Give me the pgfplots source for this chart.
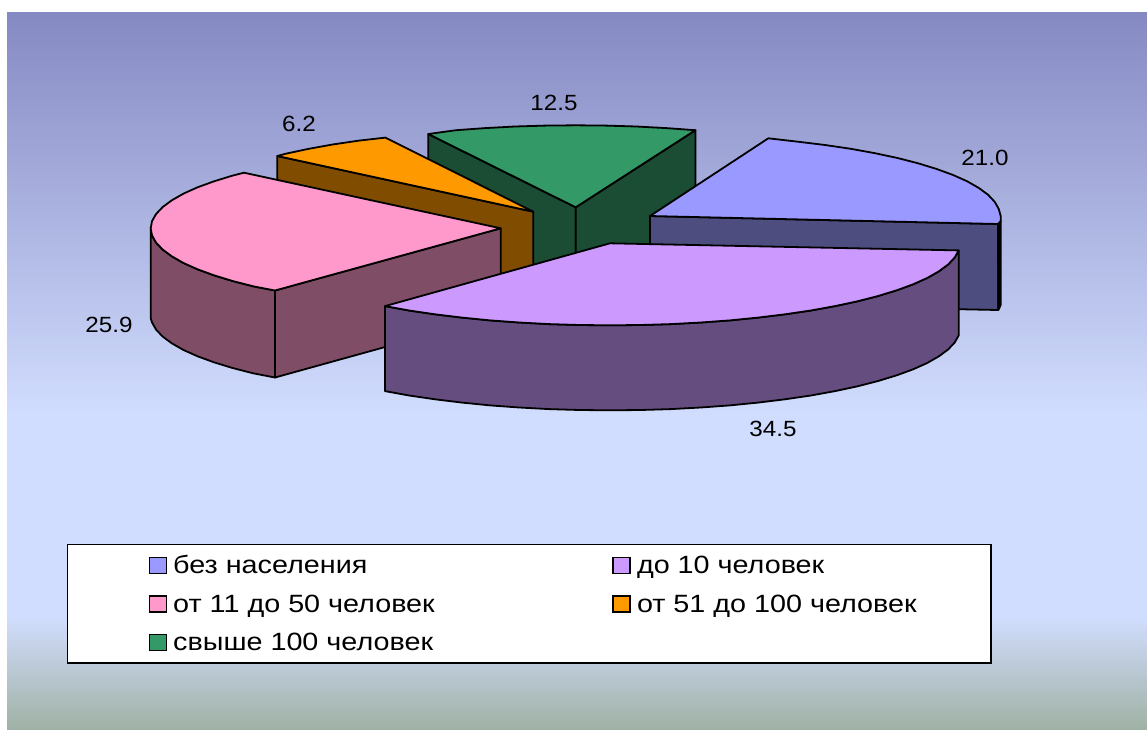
\documentclass[border=0pt]{standalone}
\usepackage{pgfplots}
\usepackage{fontspec}
\setmainfont{Liberation Sans}
\newfontfamily\legfont[FakeStretch=1.15]{Liberation Sans}
\newfontfamily\labfont[FakeStretch=1.1]{Liberation Sans}
\pgfplotsset{compat=1.18}
\definecolor{bgtop}{RGB}{133,137,194}
\definecolor{bgmid}{RGB}{209,221,254}
\definecolor{bgbot}{RGB}{160,178,165}
\definecolor{blueT}{HTML}{9999FF}
\definecolor{blueS}{HTML}{4D4D80}
\definecolor{purpT}{HTML}{CC99FF}
\definecolor{purpS}{HTML}{664D80}
\definecolor{pinkT}{HTML}{FF99CC}
\definecolor{pinkS}{HTML}{804D66}
\definecolor{oranT}{HTML}{FF9900}
\definecolor{oranS}{HTML}{804D00}
\definecolor{greenT}{HTML}{339966}
\definecolor{greenS}{HTML}{1A4D33}
\pgfplotstableread{
x y v
554 103 12.5
299 124 6.2
985 158 21.0
109 325 25.9
773 429 34.5
}\labels
\begin{document}
\begin{tikzpicture}
\begin{axis}[
    scale only axis, width=1147pt, height=729pt,
    xmin=0, xmax=1147, ymin=0, ymax=729, y dir=reverse,
    axis lines=none, clip=false,
    legend columns=2,
    legend cell align=left,
    legend image code/.code={\path (-81pt,0pt) (21pt,0pt);
        \draw[#1, line width=1.6pt] (0pt,-8pt) rectangle (17pt,8pt);},
    legend style={at={(axis cs:66.5,543.5)}, anchor=north west, draw=black, line width=1.8pt, fill=white,
        font=\legfont\fontsize{25}{26}\selectfont, inner xsep=0pt, inner ysep=9pt,
        row sep=15.5pt},
    poly/.style={draw=black, line width=1.8pt, line join=round, forget plot},
]
% background
\fill[white] (axis cs:0,0) rectangle (axis cs:1147,729);
\shade[top color=bgtop, bottom color=bgmid] (axis cs:7,12) rectangle (axis cs:1147,415);
\fill[bgmid] (axis cs:7,414) rectangle (axis cs:1147,618);
\shade[top color=bgmid, bottom color=bgbot] (axis cs:7,617) rectangle (axis cs:1147,729);

\addlegendimage{fill=blueT}\addlegendentry{\makebox[356pt][l]{без населения}}
\addlegendimage{fill=purpT}\addlegendentry{\makebox[352pt][l]{до 10 человек}}
\addlegendimage{fill=pinkT}\addlegendentry{от 11 до 50 человек}
\addlegendimage{fill=oranT}\addlegendentry{от 51 до 100 человек}
\addlegendimage{fill=greenT}\addlegendentry{свыше 100 человек}

% green slice
\addplot[poly, fill=greenS] coordinates {(428.3,134) (575.7,207.3) (575.7,294) (428.3,221)} -- cycle;
\addplot[poly, fill=greenS] coordinates {(695.4,130.2) (575.7,207.3) (575.7,294) (695.4,217)} -- cycle;
\addplot[poly, fill=greenT] coordinates {(575.7,207.3) (428.3,134) (456,130.2) (485.1,128.1) (514.9,126.5) (545.2,125.6) (575.7,125.3) (606.2,125.6) (636.5,126.5) (666.3,128.1) (695.4,130.2)} -- cycle;
% orange slice
\addplot[poly, fill=oranS] coordinates {(277.3,156) (533.3,211.7) (533.3,298.7) (277.3,243)} -- cycle;
\addplot[poly, fill=oranT] coordinates {(533.3,211.7) (277.3,156) (285.8,153.7) (308.3,148.9) (332.5,144.5) (358.3,140.7) (385.4,137.6)} -- cycle;
% pink slice
\addplot[poly, fill=pinkS] coordinates {(275,290.5) (275,377.5) (500.7,315) (500.7,228.3)} -- cycle;
\addplot[poly, fill=pinkS] coordinates {(150.7,228.3) (150.7,318) (152,322.4) (156,329.5) (162.6,336.5) (171.8,343.3) (183.5,350) (197.6,356.3) (214,362.3) (232.6,368) (253.2,373.3) (275,377.5) (275,290.5) (253.2,286.3) (232.6,281) (214,275.3) (197.6,269.3) (183.5,263) (171.8,256.3) (162.6,249.5) (156,242.5) (152,235.4)} -- cycle;
\addplot[poly, fill=pinkT] coordinates {(500.7,228.3) (244,172.7) (232.6,175.6) (214,181.3) (197.6,187.3) (183.5,193.6) (171.8,200.3) (162.6,207.1) (156,214.1) (152,221.2) (150.7,228.3) (152,235.4) (156,242.5) (162.6,249.5) (171.8,256.3) (183.5,263) (197.6,269.3) (214,275.3) (232.6,281) (253.2,286.3) (275,290.5)} -- cycle;
% blue slice
\addplot[poly, fill=blueS] coordinates {(650,216) (998,224) (998.3,310) (650,303)} -- cycle;
\addplot[poly, fill=black] coordinates {(998,224) (1000.7,221) (1000.7,305) (998.3,310)} -- cycle;
\addplot[poly, fill=blueT] coordinates {(650,216) (768.3,138.3) (797.9,141.7) (825,145) (850.8,148.8) (875,153.2) (897.5,158) (918.1,163.3) (936.7,169) (953.1,175) (967.2,181.3) (978.9,188) (988.1,194.8) (994.7,201.8) (998.7,208.9) (1000.7,216) (1000.7,221) (998,224)} -- cycle;
% purple slice
\addplot[poly, fill=purpS] coordinates {(958.7,250.4) (958.7,335.4) (954.7,342.5) (948.1,349.5) (938.9,356.3) (927.2,363) (913.1,369.3) (896.7,375.3) (878.1,381) (857.5,386.3) (835,391.1) (810.8,395.5) (785,399.3) (757.9,402.6) (729.7,405.4) (700.6,407.5) (670.8,409.1) (640.5,410) (610,410.3) (579.5,410) (549.2,409.1) (519.4,407.5) (490.3,405.4) (462.1,402.6) (435,399.3) (409.2,395.5) (385,391.1) (385,306.1) (409.2,310.5) (435,314.3) (462.1,317.6) (490.3,320.4) (519.4,322.5) (549.2,324.1) (579.5,325) (610,325.3) (640.5,325) (670.8,324.1) (700.6,322.5) (729.7,320.4) (757.9,317.6) (785,314.3) (810.8,310.5) (835,306.1) (857.5,301.3) (878.1,296) (896.7,290.3) (913.1,284.3) (927.2,278) (938.9,271.3) (948.1,264.5) (954.7,257.5)} -- cycle;
\addplot[poly, fill=purpT] coordinates {(385,306.1) (610,243.3) (958.7,250.4) (954.7,257.5) (948.1,264.5) (938.9,271.3) (927.2,278) (913.1,284.3) (896.7,290.3) (878.1,296) (857.5,301.3) (835,306.1) (810.8,310.5) (785,314.3) (757.9,317.6) (729.7,320.4) (700.6,322.5) (670.8,324.1) (640.5,325) (610,325.3) (579.5,325) (549.2,324.1) (519.4,322.5) (490.3,320.4) (462.1,317.6) (435,314.3) (409.2,310.5)} -- cycle;
% value labels
\addplot[draw=none, mark=none, forget plot, point meta=explicit symbolic,
    nodes near coords,
    every node near coord/.style={anchor=center, inner sep=0pt, font=\labfont\fontsize{22}{24}\selectfont, text=black}]
    table[x=x, y=y, meta=v] {\labels};
\end{axis}
\end{tikzpicture}
\end{document}
